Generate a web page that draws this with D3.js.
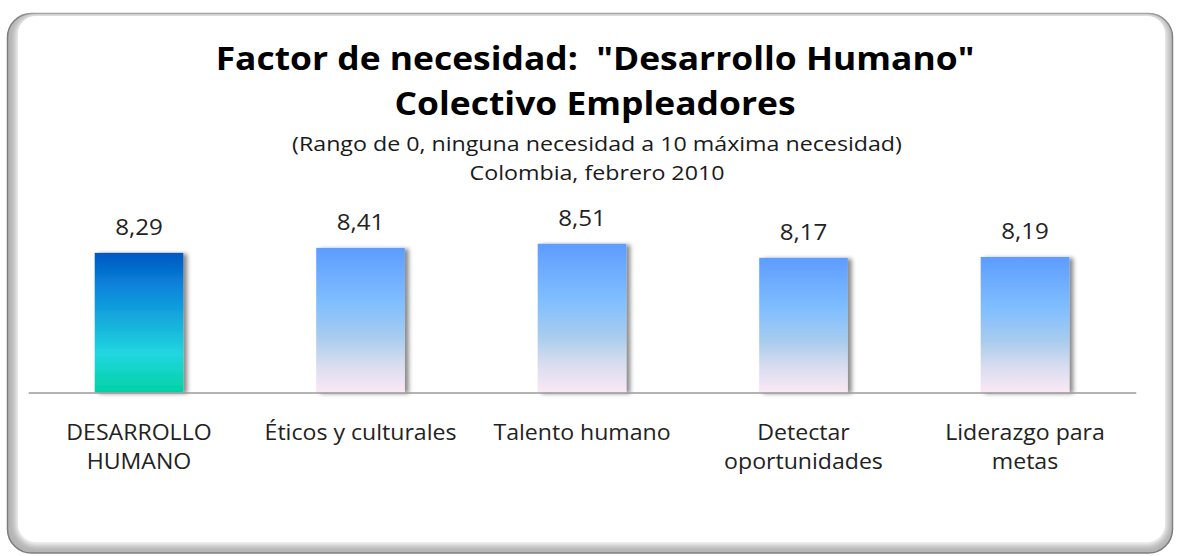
<!DOCTYPE html>
<html lang="es">
<head>
<meta charset="utf-8">
<script src="https://cdn.jsdelivr.net/npm/d3@7"></script>
<style>
  html, body { margin: 0; padding: 0; background: #ffffff; }
  svg { display: block; }
  text { font-family: "Open Sans", "Noto Sans", sans-serif; fill: #1a1a1a; white-space: pre; }
</style>
</head>
<body>
<svg id="chart" width="1177" height="556"></svg>
<script>
// Data
const categories = ["DESARROLLO\nHUMANO", "Éticos y culturales", "Talento humano", "Detectar\noportunidades", "Liderazgo para\nmetas"];
const values = [8.29, 8.41, 8.51, 8.17, 8.19];
const valueLabels = ["8,29", "8,41", "8,51", "8,17", "8,19"];
const titleLines = ["Factor de necesidad:  \"Desarrollo Humano\"", "Colectivo Empleadores"];
const subtitleLines = ["(Rango de 0, ninguna necesidad a 10 máxima necesidad)", "Colombia, febrero 2010"];

const svg = d3.select("#chart");
const defs = svg.append("defs");

// Gradients for the highlighted bar and the regular bars
const gHi = defs.append("linearGradient").attr("id", "gradHi").attr("x1", 0).attr("y1", 0).attr("x2", 0).attr("y2", 1);
[[0, "#0058c0"], [0.25, "#0a86dc"], [0.55, "#18b8dc"], [0.72, "#22d6e0"], [1, "#00d2a4"]]
  .forEach(([o, c]) => gHi.append("stop").attr("offset", o).attr("stop-color", c));

const gReg = defs.append("linearGradient").attr("id", "gradReg").attr("x1", 0).attr("y1", 0).attr("x2", 0).attr("y2", 1);
[[0, "#5d9cff"], [0.38, "#80beff"], [0.62, "#a8ccee"], [0.8, "#d6dcef"], [1, "#fbe8f5"]]
  .forEach(([o, c]) => gReg.append("stop").attr("offset", o).attr("stop-color", c));

// Soft shadow to the right of each bar
const sh = defs.append("filter").attr("id", "barShadow").attr("x", "-10%").attr("y", "-10%").attr("width", "130%").attr("height", "120%");
sh.append("feDropShadow").attr("dx", 4).attr("dy", 1).attr("stdDeviation", 2)
  .attr("flood-color", "#000").attr("flood-opacity", 0.45);

// Blur for the frame's inner shading
const fb = defs.append("filter").attr("id", "frameBlur").attr("x", "-5%").attr("y", "-5%").attr("width", "110%").attr("height", "110%");
fb.append("feGaussianBlur").attr("stdDeviation", 3);

// Frame: grey shaded rounded panel with a white face
svg.append("rect")
  .attr("x", 7.5).attr("y", 13.5).attr("width", 1165).attr("height", 539.5)
  .attr("rx", 24).attr("ry", 24)
  .attr("fill", "#b4b4b4").attr("stroke", "#7d7d7d").attr("stroke-width", 1.5);
svg.append("rect")
  .attr("x", 16).attr("y", 15).attr("width", 1151).attr("height", 530)
  .attr("rx", 20).attr("ry", 20)
  .attr("fill", "#ffffff").attr("filter", "url(#frameBlur)");
svg.append("rect")
  .attr("x", 18).attr("y", 16).attr("width", 1147).attr("height", 526)
  .attr("rx", 18).attr("ry", 18)
  .attr("fill", "#ffffff");

// Scales
const x = d3.scaleBand()
  .domain(categories)
  .range([28.25, 1135.75])
  .paddingInner(0.6)
  .paddingOuter(0.3);

const y = d3.scaleLinear()
  .domain([4.9, 10])
  .range([392.5, 182.4]);

// Text placed at (cx, by) and widened horizontally by sx
function place(sel, cx, by, sx) {
  sel.attr("x", 0).attr("y", 0)
    .attr("transform", (d, i) => `translate(${cx(d, i)},${by(d, i)}) scale(${sx},1)`);
}

// Titles
svg.append("g").attr("text-anchor", "middle")
  .selectAll("text")
  .data(titleLines)
  .join("text")
  .style("font-weight", 700)
  .style("font-size", "32.5px")
  .style("fill", "#000")
  .text(d => d)
  .call(place, () => 595, (d, i) => 70 + i * 45, 1.09);

svg.append("g").attr("text-anchor", "middle")
  .selectAll("text")
  .data(subtitleLines)
  .join("text")
  .style("font-size", "19.5px")
  .text(d => d)
  .call(place, () => 597, (d, i) => 150.5 + i * 29, 1.19);

// Bars
svg.append("g")
  .selectAll("rect")
  .data(values)
  .join("rect")
  .attr("x", (d, i) => x(categories[i]))
  .attr("y", d => y(d))
  .attr("width", x.bandwidth())
  .attr("height", d => y.range()[0] - y(d))
  .attr("fill", (d, i) => i === 0 ? "url(#gradHi)" : "url(#gradReg)")
  .attr("filter", "url(#barShadow)");

// Value labels
svg.append("g").attr("text-anchor", "middle")
  .selectAll("text")
  .data(values)
  .join("text")
  .style("font-size", "21px")
  .style("fill", "#222")
  .text((d, i) => valueLabels[i])
  .call(place, (d, i) => x(categories[i]) + x.bandwidth() / 2, d => y(d) - 17.5, 1.15);

// Category axis
const axis = svg.append("g")
  .attr("transform", `translate(0,${y.range()[0]})`)
  .call(d3.axisBottom(x).tickSize(0).tickFormat(""));
axis.select(".domain").attr("stroke", "#9a9a9a").attr("stroke-width", 1.5);

svg.append("g").attr("text-anchor", "middle")
  .selectAll("text")
  .data(categories)
  .join("text")
  .style("font-size", "21px")
  .style("fill", "#222")
  .call(place, d => x(d) + x.bandwidth() / 2, () => 440, 1.1)
  .each(function (d) {
    d3.select(this).selectAll("tspan")
      .data(d.split("\n"))
      .join("tspan")
      .attr("x", 0)
      .attr("dy", (t, i) => i === 0 ? 0 : 29.5)
      .text(t => t);
  });
</script>
</body>
</html>
